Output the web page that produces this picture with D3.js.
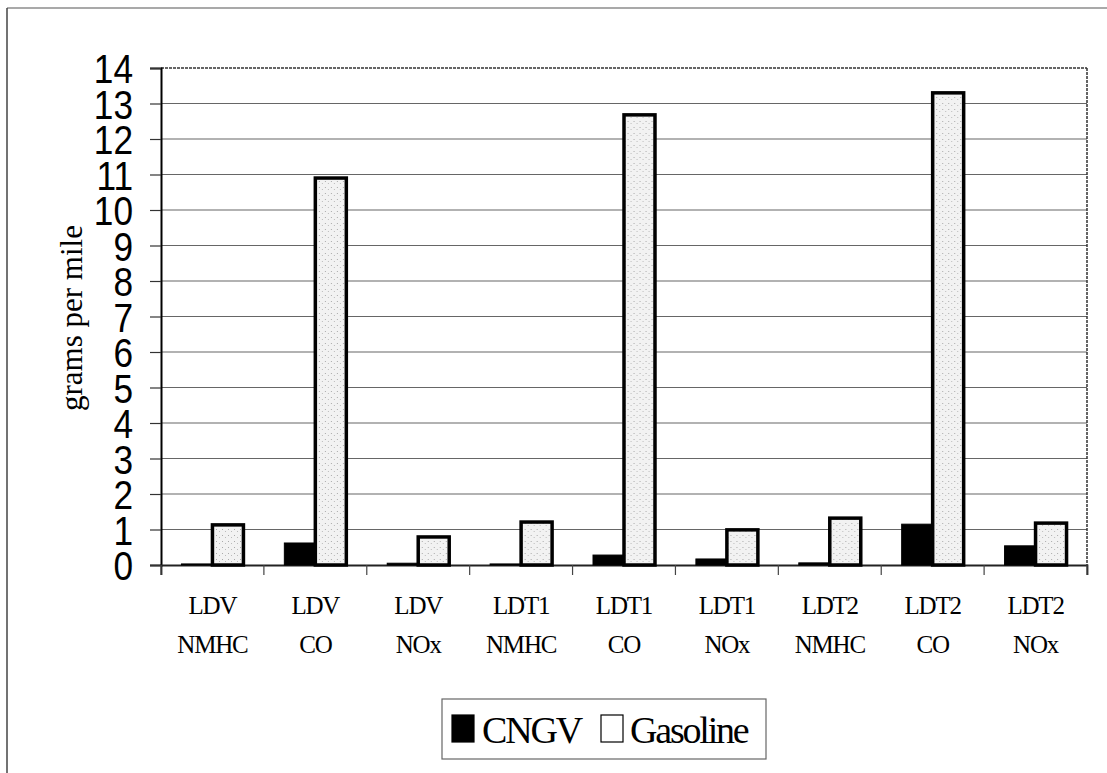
<!DOCTYPE html>
<html>
<head>
<meta charset="utf-8">
<script src="https://cdn.jsdelivr.net/npm/d3@7"></script>
<style>
  body { margin: 0; background: #fff; }
  svg { display: block; }
</style>
</head>
<body>
<div id="chart"></div>
<script>
/* DATA */
const vehicles = ["LDV", "LDV", "LDV", "LDT1", "LDT1", "LDT1", "LDT2", "LDT2", "LDT2"];
const pollutants = ["NMHC", "CO", "NOx", "NMHC", "CO", "NOx", "NMHC", "CO", "NOx"];
const cngv = [0.03, 0.62, 0.05, 0.03, 0.28, 0.17, 0.06, 1.15, 0.54];
const gasoline = [1.13, 10.9, 0.79, 1.21, 12.68, 0.99, 1.32, 13.3, 1.18];
const seriesNames = ["CNGV", "Gasoline"];
const yTicks = d3.range(0, 15);

const width = 1107, height = 773;
const margin = { top: 68, bottom: 208, left: 161, right: 20 };

const svg = d3.select("#chart").append("svg")
  .attr("width", width)
  .attr("height", height);

// dotted fill for the gasoline bars
const pat = svg.append("defs").append("pattern")
  .attr("id", "stipple")
  .attr("width", 6).attr("height", 6)
  .attr("patternUnits", "userSpaceOnUse");
pat.append("rect").attr("width", 6).attr("height", 6).attr("fill", "#f2f2f2");
pat.append("rect").attr("x", 1).attr("y", 1).attr("width", 1).attr("height", 1).attr("fill", "#aaa");
pat.append("rect").attr("x", 4).attr("y", 3).attr("width", 1).attr("height", 1).attr("fill", "#bbb");

// outer frame (scanned, only top and left visible)
svg.append("line").attr("x1", 7).attr("x2", width).attr("y1", 8).attr("y2", 8)
  .attr("stroke", "#555").attr("stroke-width", 1.2);
svg.append("line").attr("x1", 7).attr("x2", 7).attr("y1", 8).attr("y2", height)
  .attr("stroke", "#444").attr("stroke-width", 1.5);

const groups = d3.range(vehicles.length);

const x = d3.scaleBand()
  .domain(groups)
  .range([margin.left, width - margin.right])
  .paddingInner(0)
  .paddingOuter(0);

const xs = d3.scaleBand()
  .domain(seriesNames)
  .range([0, x.bandwidth()])
  .paddingOuter(0.66)
  .paddingInner(0);

const y = d3.scaleLinear()
  .domain([0, 14])
  .range([height - margin.bottom, margin.top]);

// gridlines
svg.append("g")
  .selectAll("line")
  .data(yTicks.filter(d => d > 0))
  .join("line")
  .attr("x1", margin.left)
  .attr("x2", width - margin.right)
  .attr("y1", d => y(d))
  .attr("y2", d => y(d))
  .attr("stroke", d => d === 14 ? "#333" : "#666")
  .attr("stroke-width", d => d === 14 ? 1.5 : 1.2)
  .attr("stroke-dasharray", d => d === 14 ? "3,1" : null);

// right border of plot
svg.append("line")
  .attr("x1", width - margin.right).attr("x2", width - margin.right)
  .attr("y1", y(14)).attr("y2", y(0))
  .attr("stroke", "#333").attr("stroke-width", 1.5)
  .attr("stroke-dasharray", "3,1");

// y axis
const yAxis = d3.axisLeft(y).tickValues(yTicks).tickSize(11).tickFormat(d3.format("d"));
const yG = svg.append("g")
  .attr("transform", `translate(${margin.left},0)`)
  .call(yAxis);
yG.select(".domain").attr("stroke", "#000").attr("stroke-width", 2);
yG.selectAll(".tick line").attr("stroke", "#333").attr("stroke-width", 1.2);
yG.selectAll(".tick text")
  .attr("x", 0)
  .attr("dy", "0.36em")
  .attr("font-family", "'Liberation Sans', Arial, sans-serif")
  .attr("font-size", 41)
  .attr("fill", "#000")
  .attr("text-anchor", "end")
  .attr("transform", "translate(-28,0) scale(0.86,1)");

// x axis
const xAxis = d3.axisBottom(x).tickSize(10).tickFormat("");
const xG = svg.append("g")
  .attr("transform", `translate(0,${y(0)})`)
  .call(xAxis);
xG.select(".domain").attr("stroke", "#222").attr("stroke-width", 1.8);
xG.selectAll(".tick").remove();
xG.selectAll("line.bound")
  .data(d3.range(vehicles.length + 1))
  .join("line")
  .attr("class", "bound")
  .attr("x1", d => margin.left + d * x.step())
  .attr("x2", d => margin.left + d * x.step())
  .attr("y1", 0).attr("y2", 10)
  .attr("stroke", "#444").attr("stroke-width", 1.2);

// category labels
const lab = svg.append("g")
  .attr("font-family", "'Liberation Serif', 'Times New Roman', serif")
  .attr("font-size", 25)
  .attr("letter-spacing", "-1.2")
  .attr("text-anchor", "middle")
  .attr("fill", "#000");
lab.selectAll("text.l1")
  .data(groups)
  .join("text")
  .attr("class", "l1")
  .attr("x", d => x(d) + x.bandwidth() / 2)
  .attr("y", 614)
  .text(d => vehicles[d]);
lab.selectAll("text.l2")
  .data(groups)
  .join("text")
  .attr("class", "l2")
  .attr("x", d => x(d) + x.bandwidth() / 2)
  .attr("y", 653)
  .text(d => pollutants[d]);

// bars
const rows = groups.map(i => ({ i, values: [cngv[i], gasoline[i]] }));
svg.append("g")
  .selectAll("g")
  .data(rows)
  .join("g")
  .attr("transform", d => `translate(${x(d.i)},0)`)
  .selectAll("rect")
  .data(d => d.values.map((v, k) => ({ key: seriesNames[k], v })))
  .join("rect")
  .attr("x", d => xs(d.key))
  .attr("width", xs.bandwidth())
  .attr("y", d => y(d.v))
  .attr("height", d => y(0) - y(d.v))
  .attr("fill", d => d.key === "CNGV" ? "#000" : "url(#stipple)")
  .attr("stroke", "#000")
  .attr("stroke-width", d => d.key === "CNGV" ? 1 : 3.5);

// y title
svg.append("text")
  .attr("transform", "translate(82,318) rotate(-90)")
  .attr("text-anchor", "middle")
  .attr("font-family", "'Liberation Serif', 'Times New Roman', serif")
  .attr("font-size", 31)
  .attr("fill", "#000")
  .text("grams per mile");

// legend
const leg = svg.append("g");
leg.append("rect")
  .attr("x", 442).attr("y", 699).attr("width", 324).attr("height", 60)
  .attr("fill", "#fff").attr("stroke", "#666").attr("stroke-width", 1.2);
const legItems = [
  { name: seriesNames[0], sx: 452, tx: 482, fill: "#000" },
  { name: seriesNames[1], sx: 601, tx: 630, fill: "#fff" }
];
leg.selectAll("rect.sw")
  .data(legItems)
  .join("rect")
  .attr("class", "sw")
  .attr("x", d => d.sx).attr("y", 715)
  .attr("width", 22).attr("height", 27)
  .attr("fill", d => d.fill)
  .attr("stroke", "#000").attr("stroke-width", 1.2);
leg.selectAll("text")
  .data(legItems)
  .join("text")
  .attr("x", d => d.tx).attr("y", 743)
  .attr("font-family", "'Liberation Serif', 'Times New Roman', serif")
  .attr("font-size", 38)
  .attr("letter-spacing", "-2.2")
  .attr("fill", "#000")
  .text(d => d.name);
</script>
</body>
</html>
